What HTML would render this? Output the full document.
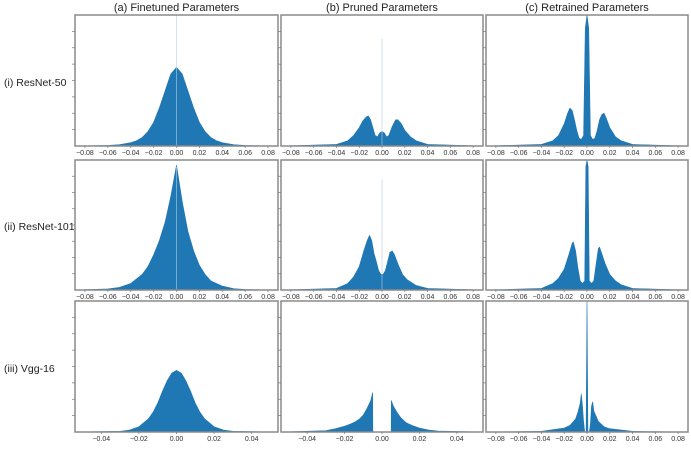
<!DOCTYPE html>
<html><head><meta charset="utf-8"><style>
body{margin:0;background:#fff;width:691px;height:446px;overflow:hidden;font-family:"Liberation Sans",sans-serif}
</style></head><body>
<svg id="fig" width="691" height="446" xmlns="http://www.w3.org/2000/svg"></svg>
<script>
const colTitles = ["(a) Finetuned Parameters","(b) Pruned Parameters","(c) Retrained Parameters"];
const rowLabels = ["(i) ResNet-50","(ii) ResNet-101","(iii) Vgg-16"];
const ticksWide = [-0.08,-0.06,-0.04,-0.02,0,0.02,0.04,0.06,0.08];
const ticksNarrow = [-0.04,-0.02,0,0.02,0.04];
const r1aX=[-0.088,-0.06,-0.05,-0.04,-0.035,-0.03,-0.025,-0.02,-0.015,-0.01,-0.005,0,0.005,0.01,0.015,0.02,0.025,0.03,0.035,0.04,0.05,0.06,0.088];
const r1aY=[0,0.004,0.01,0.025,0.04,0.065,0.11,0.18,0.29,0.42,0.55,0.6,0.55,0.42,0.29,0.18,0.11,0.065,0.04,0.025,0.01,0.004,0];
const r1bX=[-0.088,-0.04,-0.03,-0.025,-0.02,-0.017,-0.014,-0.012,-0.01,-0.008,-0.006,-0.004,-0.002,0,0.002,0.004,0.006,0.009,0.012,0.014,0.017,0.02,0.025,0.03,0.04,0.088];
const r1bY=[0,0.012,0.04,0.08,0.14,0.19,0.22,0.23,0.2,0.14,0.08,0.07,0.1,0.11,0.1,0.07,0.08,0.15,0.2,0.2,0.17,0.12,0.07,0.04,0.012,0];
const r1cX=[-0.088,-0.04,-0.03,-0.025,-0.02,-0.017,-0.015,-0.013,-0.011,-0.009,-0.007,-0.005,-0.003,-0.0015,0,0.0015,0.003,0.005,0.007,0.009,0.011,0.013,0.015,0.017,0.02,0.025,0.03,0.04,0.088];
const r1cY=[0,0.012,0.04,0.08,0.17,0.25,0.29,0.27,0.2,0.12,0.06,0.05,0.08,0.9,1.0,0.9,0.08,0.05,0.06,0.12,0.2,0.24,0.25,0.21,0.14,0.07,0.04,0.012,0];
const r2aX=[-0.088,-0.06,-0.05,-0.04,-0.03,-0.025,-0.02,-0.015,-0.01,-0.005,0,0.005,0.01,0.015,0.02,0.025,0.03,0.04,0.05,0.06,0.088];
const r2aY=[0,0.008,0.02,0.05,0.12,0.18,0.27,0.38,0.52,0.72,0.96,0.68,0.45,0.3,0.19,0.12,0.07,0.03,0.01,0.004,0];
const r2bX=[-0.088,-0.04,-0.03,-0.025,-0.02,-0.016,-0.013,-0.011,-0.009,-0.007,-0.005,-0.003,-0.001,0.001,0.003,0.005,0.007,0.009,0.011,0.014,0.018,0.022,0.03,0.04,0.088];
const r2bY=[0,0.012,0.05,0.1,0.18,0.3,0.38,0.42,0.38,0.28,0.22,0.15,0.12,0.12,0.15,0.22,0.29,0.3,0.27,0.2,0.12,0.08,0.035,0.012,0];
const r2cX=[-0.088,-0.04,-0.03,-0.025,-0.02,-0.016,-0.013,-0.012,-0.01,-0.008,-0.006,-0.004,-0.002,-0.001,0,0.001,0.002,0.004,0.006,0.008,0.01,0.011,0.013,0.016,0.02,0.025,0.03,0.04,0.088];
const r2cY=[0,0.012,0.05,0.09,0.16,0.27,0.36,0.37,0.3,0.17,0.07,0.05,0.07,0.95,1.0,0.95,0.07,0.05,0.07,0.2,0.32,0.33,0.28,0.2,0.12,0.07,0.04,0.012,0];
const r3aX=[-0.054,-0.03,-0.025,-0.02,-0.015,-0.0125,-0.01,-0.0075,-0.005,-0.0025,0,0.0025,0.005,0.0075,0.01,0.0125,0.015,0.02,0.025,0.03,0.054];
const r3aY=[0,0.005,0.015,0.04,0.1,0.15,0.22,0.31,0.39,0.45,0.47,0.45,0.39,0.31,0.22,0.15,0.1,0.04,0.015,0.005,0];
const r3bX=[-0.054,-0.03,-0.025,-0.02,-0.017,-0.014,-0.012,-0.01,-0.008,-0.006,-0.005,-0.0049,0.0049,0.005,0.006,0.008,0.01,0.013,0.016,0.02,0.025,0.03,0.054];
const r3bY=[0,0.01,0.025,0.045,0.06,0.08,0.1,0.13,0.18,0.24,0.3,0,0,0.24,0.2,0.15,0.11,0.07,0.05,0.03,0.015,0.007,0];
const r3cX=[-0.088,-0.04,-0.02,-0.015,-0.012,-0.01,-0.008,-0.006,-0.005,-0.004,-0.003,-0.002,-0.0008,0,0.0008,0.002,0.003,0.004,0.005,0.006,0.008,0.01,0.015,0.02,0.04,0.088];
const r3cY=[0,0.005,0.03,0.05,0.08,0.1,0.15,0.22,0.29,0.2,0.08,0,0,1.0,0,0,0.06,0.2,0.23,0.16,0.12,0.08,0.04,0.025,0.005,0];
const spikeH=[1.0,0.82,0,0.95,0.85,0,0,0,0];

const NS="http://www.w3.org/2000/svg";
const svg=document.getElementById('fig');
function mk(t,a){const e=document.createElementNS(NS,t);for(const k in a)e.setAttribute(k,a[k]);svg.appendChild(e);return e;}
const colL=[75,281,486], colW=[203,202,202];
const rowT=[15,160,301], rowB=[146,290,432];
const data=[[r1aX,r1aY],[r1bX,r1bY],[r1cX,r1cY],[r2aX,r2aY],[r2bX,r2bY],[r2cX,r2cY],[r3aX,r3aY],[r3bX,r3bY],[r3cX,r3cY]];
const cNames=["a","b","c"];
colTitles.forEach((t,i)=>{const e=mk('text',{x:colL[i]+colW[i]/2,y:11,'text-anchor':'middle','font-size':11,fill:'#222'});e.textContent=t;

});
const rowY=[86,230,372];
rowLabels.forEach((t,i)=>{const e=mk('text',{x:4,y:rowY[i],'font-size':10.5,fill:'#222'});e.textContent=t;

});
for(let r=0;r<3;r++)for(let c=0;c<3;c++){
  const k=r*3+c, L=colL[c], W=colW[c], T=rowT[r], B=rowB[r], H=B-T;
  const narrow=(r===2&&c<2); const lim=narrow?0.054:0.0887;
  const sx=v=>L+(v+lim)/(2*lim)*W, sy=f=>B-f*H;
  const [X,Y]=data[k];
  let d='M'+sx(X[0])+','+B;
  for(let i=0;i<X.length;i++)d+=' L'+sx(X[i]).toFixed(2)+','+sy(Y[i]).toFixed(2);
  d+=' L'+sx(X[X.length-1])+','+B+' Z';
  const p=mk('path',{d:d,fill:'#1f77b4',stroke:'#1f77b4','stroke-width':0.6,'stroke-linejoin':'round'});
  
  
  if(spikeH[k]>0){const s=mk('line',{x1:sx(0),x2:sx(0),y1:B,y2:sy(spikeH[k]),stroke:'#b5cfe0','stroke-width':1,opacity:0.6});
  
  }
  const f=mk('rect',{x:L,y:T,width:W,height:H,fill:'none',stroke:'#8a8a8a','stroke-width':1.5});
  
  
  for(let j=1;j<8;j++){mk('line',{x1:L-3,x2:L,y1:B-j*H/8,y2:B-j*H/8,stroke:'#777','stroke-width':0.7});}
  const ticks=narrow?ticksNarrow:ticksWide;
  ticks.forEach(v=>{mk('line',{x1:sx(v),x2:sx(v),y1:B,y2:B+2,stroke:'#777','stroke-width':0.7});
    const t=mk('text',{x:sx(v),y:B+9,'text-anchor':'middle','font-size':7,fill:'#333'});
    t.textContent=(v<0?'\u2212':'')+Math.abs(v).toFixed(2);
    
    });
}
</script>
</body></html>
